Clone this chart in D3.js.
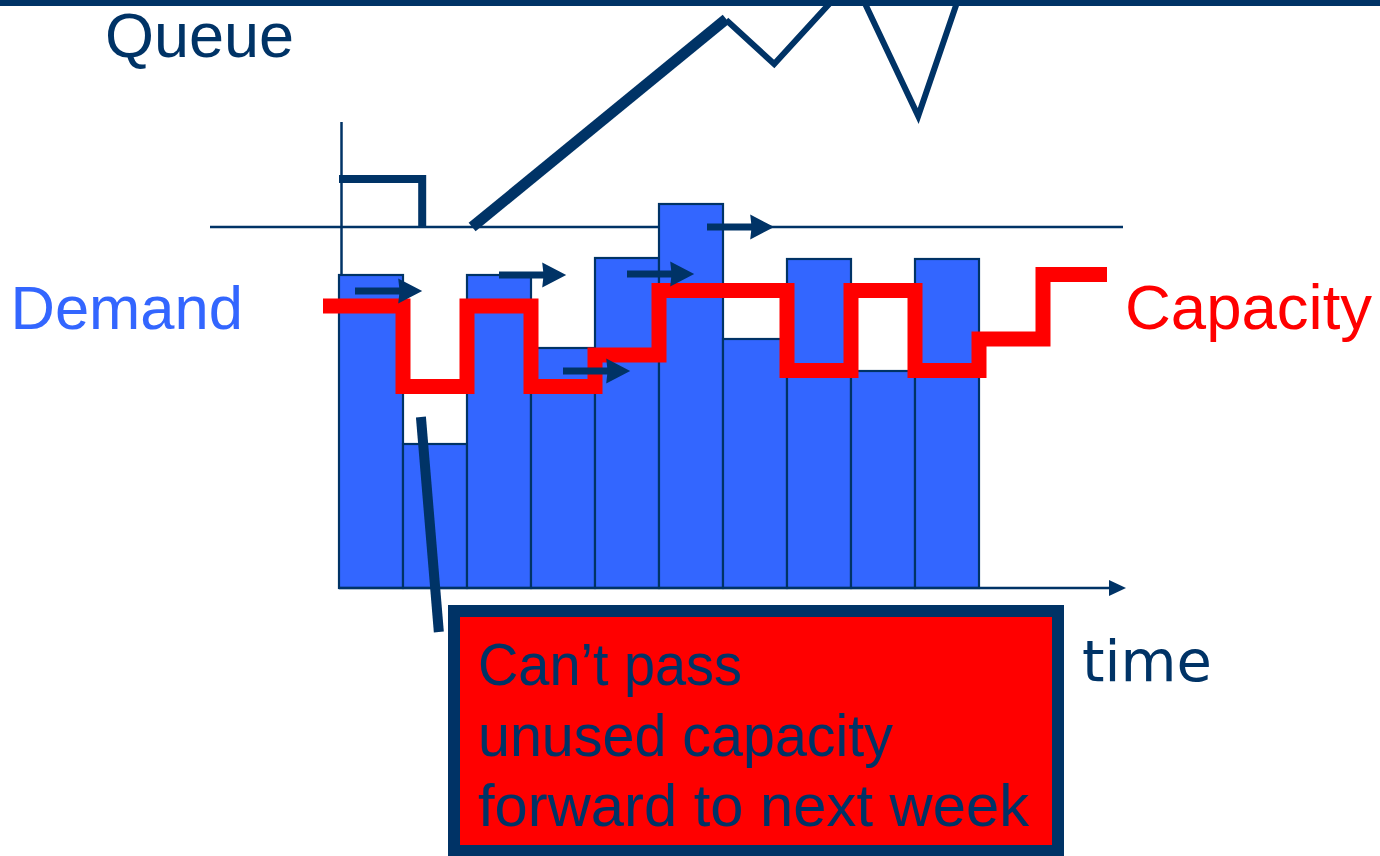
<!DOCTYPE html>
<html>
<head>
<meta charset="utf-8">
<script src="https://cdn.jsdelivr.net/npm/d3@7"></script>
<style>
  html, body { margin: 0; padding: 0; background: #ffffff; }
  svg { display: block; }
  text { font-family: "Liberation Sans", Arial, sans-serif; }
</style>
</head>
<body>
<svg id="chart" width="1380" height="856"></svg>
<script>
// Weekly demand (bars), one value per week
const weeks = [1, 2, 3, 4, 5, 6, 7, 8, 9, 10];
const demand = [6.26, 2.88, 6.26, 4.80, 6.60, 7.68, 4.98, 6.58, 4.34, 6.58];

// Weekly capacity (stepped line), continues two weeks past the demand
const capacity = [5.64, 4.03, 5.64, 4.03, 4.66, 5.95, 5.95, 4.35, 5.95, 4.35, 4.98, 6.27];
const capacityLeadIn = -0.25;

// Queue trace [week, queue level]
const queueHold = [[0, 0.96], [1.30, 0.96], [1.30, 0]];
const queueRise = [[2.08, 0], [6.05, 4.16]];
const queueTail = [[6.05, 4.14], [6.80, 3.26], [8.03, 4.98], [9.05, 2.22], [9.83, 5.14]];

// Demand carried forward into the next week [start week, level]
const carryArrows = [[0.25, 5.94], [2.50, 6.26], [3.50, 4.34], [4.50, 6.28], [5.75, 7.22]];

// Callout pointer [week, level]
const pointer = [[1.28, 3.42], [1.56, -0.88]];

const callout = ["Can\u2019t pass", "unused capacity", "forward to next week"];
const calloutWidths = [264, 415, 551];

const NAVY = "#003366", BLUE = "#3366ff", RED = "#ff0000";

const svg = d3.select("#chart");

const x = d3.scaleLinear().domain([0, 12]).range([339, 1107]);
const y = d3.scaleLinear().domain([0, 10]).range([588, 88]);
const yq = d3.scaleLinear().domain([0, 4]).range([227, 27]);

// Queue baseline and vertical axis
svg.append("line")
  .attr("x1", 210).attr("x2", 1123)
  .attr("y1", yq(0)).attr("y2", yq(0))
  .attr("stroke", NAVY).attr("stroke-width", 2.5);

svg.append("line")
  .attr("x1", 341.5).attr("x2", 341.5)
  .attr("y1", 122).attr("y2", y(0))
  .attr("stroke", NAVY).attr("stroke-width", 2.5);

// Demand bars
svg.append("g").selectAll("rect")
  .data(demand)
  .join("rect")
  .attr("x", (d, i) => x(i))
  .attr("y", d => y(d))
  .attr("width", (d, i) => x(i + 1) - x(i))
  .attr("height", d => y(0) - y(d))
  .attr("fill", BLUE)
  .attr("stroke", NAVY)
  .attr("stroke-width", 2.2);

// Time axis with arrowhead
svg.append("line")
  .attr("x1", x(0)).attr("x2", 1112)
  .attr("y1", y(0)).attr("y2", y(0))
  .attr("stroke", NAVY).attr("stroke-width", 2.5);
svg.append("path")
  .attr("d", `M1126,${y(0)} L1109,${y(0) - 8} L1109,${y(0) + 8} Z`)
  .attr("fill", NAVY);

// Capacity step line
const capPts = capacity.map((c, i) => [i === 0 ? capacityLeadIn : i, c]);
capPts.push([capacity.length, capacity[capacity.length - 1]]);
svg.append("path")
  .datum(capPts)
  .attr("d", d3.line().x(d => x(d[0])).y(d => y(d[1])).curve(d3.curveStepAfter))
  .attr("fill", "none")
  .attr("stroke", RED)
  .attr("stroke-width", 15)
  .attr("stroke-linejoin", "miter");

// Carry-forward arrows
const arrowLen = 1.05, headLen = 24, headHalf = 12.5, shaft = 7;
svg.append("g").selectAll("path")
  .data(carryArrows)
  .join("path")
  .attr("d", d => {
    const x0 = x(d[0]), x1 = x(d[0] + arrowLen), yy = y(d[1]);
    const xh = x1 - headLen;
    return `M${x0},${yy - shaft / 2} L${xh + 1},${yy - shaft / 2} L${xh},${yy - headHalf} L${x1},${yy} ` +
           `L${xh},${yy + headHalf} L${xh + 1},${yy + shaft / 2} L${x0},${yy + shaft / 2} Z`;
  })
  .attr("fill", NAVY);

// Queue trace
const qLine = d3.line().x(d => x(d[0])).y(d => yq(d[1]));
svg.append("path").datum(queueHold).attr("d", qLine)
  .attr("fill", "none").attr("stroke", NAVY).attr("stroke-width", 8).attr("stroke-linejoin", "miter");
svg.append("path").datum(queueRise).attr("d", qLine)
  .attr("fill", "none").attr("stroke", NAVY).attr("stroke-width", 11);
svg.append("path").datum(queueTail).attr("d", qLine)
  .attr("fill", "none").attr("stroke", NAVY).attr("stroke-width", 6).attr("stroke-linejoin", "miter")
  .attr("stroke-miterlimit", 10);

// Top rule
svg.append("rect").attr("x", 0).attr("y", 0).attr("width", 1380).attr("height", 6).attr("fill", NAVY);

// Callout pointer and box
svg.append("line")
  .attr("x1", x(pointer[0][0])).attr("y1", y(pointer[0][1]))
  .attr("x2", x(pointer[1][0])).attr("y2", y(pointer[1][1]))
  .attr("stroke", NAVY).attr("stroke-width", 10);

svg.append("rect")
  .attr("x", 454).attr("y", 611).attr("width", 604).attr("height", 240)
  .attr("fill", RED).attr("stroke", NAVY).attr("stroke-width", 12);

svg.append("g").selectAll("text")
  .data(callout)
  .join("text")
  .attr("x", 478)
  .attr("y", (d, i) => 685 + i * 70.5)
  .attr("font-size", 59)
  .attr("textLength", (d, i) => calloutWidths[i])
  .attr("lengthAdjust", "spacingAndGlyphs")
  .attr("fill", NAVY)
  .text(d => d);

// Labels
svg.append("text").attr("x", 105).attr("y", 57).attr("font-size", 63).attr("fill", NAVY).text("Queue");
svg.append("text").attr("x", 10.5).attr("y", 329).attr("font-size", 61.5).attr("fill", BLUE).text("Demand");
svg.append("text").attr("x", 1125).attr("y", 329).attr("font-size", 63.5).attr("fill", RED).text("Capacity");
svg.append("text").attr("x", 1082).attr("y", 681).attr("font-size", 57.5)
  .style("font-family", "'DejaVu Sans', Verdana, sans-serif")
  .attr("fill", NAVY).text("time");
</script>
</body>
</html>
